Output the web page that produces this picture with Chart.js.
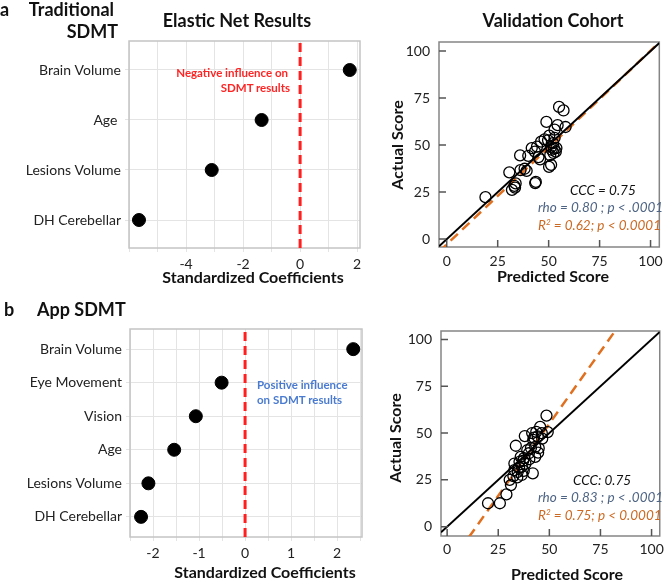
<!DOCTYPE html>
<html>
<head>
<meta charset="utf-8">
<script src="https://cdn.jsdelivr.net/npm/chart.js@4.4.1/dist/chart.umd.min.js"></script>
<style>
body { margin: 0; background: #fff; }
#wrap { position: relative; width: 669px; height: 581px; font-family: Lato, sans-serif; color: #111; overflow: hidden; }
canvas { position: absolute; }
.t { position: absolute; white-space: nowrap; line-height: 1; }
.b18 { font-size: 18px; font-weight: bold; }
.b16 { font-size: 16px; font-weight: bold; }
.c { transform: translateX(-50%); }
.r { transform: translateX(-100%); }
.rot { transform: translate(-50%, -50%) rotate(-90deg); }
.note { font-size: 11.5px; font-weight: bold; }
.stat { font-size: 13.5px; font-style: italic; }
</style>
</head>
<body>
<div id="wrap">
  <canvas id="coefA" width="370" height="290" style="left:0;top:0"></canvas>
  <canvas id="scoreA" width="299" height="290" style="left:370px;top:0"></canvas>
  <canvas id="coefB" width="370" height="291" style="left:0;top:290px"></canvas>
  <canvas id="scoreB" width="299" height="291" style="left:370px;top:290px"></canvas>

  <div class="t b18" style="left:0;top:0">a</div>
  <div class="t b18 r" style="left:114px;top:0">Traditional</div>
  <div class="t b18 r" style="left:118px;top:22px">SDMT</div>
  <div class="t b18 c" style="left:237px;top:11px">Elastic Net Results</div>
  <div class="t b18 c" style="left:553px;top:11px">Validation Cohort</div>
  <div class="t b16 c" style="left:253px;top:269px">Standardized Coefficients</div>
  <div class="t b16 c" style="left:553px;top:268px">Predicted Score</div>
  <div class="t b16 rot" style="left:397px;top:145px">Actual Score</div>
  <div class="t note r" style="left:288px;top:67px;color:#ff2424">Negative influence on</div>
  <div class="t note r" style="left:290px;top:82px;color:#ff2424">SDMT results</div>
  <div class="t stat" style="left:570px;top:184px;color:#111">CCC = 0.75</div>
  <div class="t stat" style="left:538px;top:201px;color:#4e6484">rho = 0.80 ; p &lt; .0001</div>
  <div class="t stat" style="left:538px;top:219px;color:#cc6a23">R<sup style="font-size:8px;line-height:0">2</sup> = 0.62; p &lt; 0.0001</div>

  <div class="t b18" style="left:4px;top:300px">b</div>
  <div class="t b18" style="left:37px;top:300px">App SDMT</div>
  <div class="t b16 c" style="left:265px;top:564px">Standardized Coefficients</div>
  <div class="t b16 c" style="left:567px;top:566px">Predicted Score</div>
  <div class="t b16 rot" style="left:395px;top:438px">Actual Score</div>
  <div class="t note" style="left:257px;top:379px;color:#4a7bd0">Positive influence</div>
  <div class="t note" style="left:257px;top:394px;color:#4a7bd0">on SDMT results</div>
  <div class="t stat" style="left:573px;top:474px;color:#111">CCC: 0.75</div>
  <div class="t stat" style="left:538px;top:491px;color:#4e6484">rho = 0.83 ; p &lt; .0001</div>
  <div class="t stat" style="left:538px;top:509px;color:#cc6a23">R<sup style="font-size:8px;line-height:0">2</sup> = 0.75; p &lt; 0.0001</div>
</div>

<script>
// elastic net coefficients
var tradLabels = ['Brain Volume', 'Age ', 'Lesions Volume', 'DH Cerebellar'];
var tradCoef = [1.74, -1.35, -3.1, -5.65];
var tradGrid = [-6, -5, -4, -3, -2, -1, 0, 1, 2];
var tradTickLabels = [-4, -2, 0, 2];

var appLabels = ['Brain Volume', 'Eye Movement', 'Vision', 'Age', 'Lesions Volume', 'DH Cerebellar'];
var appCoef = [2.35, -0.51, -1.07, -1.54, -2.1, -2.26];
var appGrid = [-2.5, -2, -1.5, -1, -0.5, 0, 0.5, 1, 1.5, 2, 2.5];
var appTickLabels = [-2, -1, 0, 1, 2];

// validation scatter
var scoreTicks = [0, 25, 50, 75, 100];
var valPredicted = [19, 30.7, 32, 33.2, 33.8, 33.5, 36.2, 38.2, 39.2, 36, 40, 41.7, 43.3, 44.3, 43.4, 43.7, 45, 45.8, 46.3, 48,
  48.9, 49.7, 50.3, 50.2, 51.2, 50.8, 51.2, 52.2, 52.6, 52.4, 52.9, 52.9, 54.4, 53.8, 55.1, 57.3, 58.3, 53.5, 51.5];
var valActual = [22.3, 35.5, 26.2, 28.3, 29.6, 27.4, 36.7, 37.4, 36.3, 44.5, 44.3, 48.4, 46.5, 49.2, 29.8, 30.4, 43.6, 42.4, 51.8, 53,
  62.3, 52.5, 55, 38.4, 39.5, 44.6, 49, 51, 48.2, 45.8, 53.8, 58.2, 60.6, 48.4, 70.3, 68.4, 59.6, 46.5, 47.5];
var valFit = [1.03, -2.8]; // slope, intercept

var appPredicted = [20, 25.8, 29, 31.2, 30.6, 32.4, 32.9, 32.9, 33.6, 34.5, 35.2, 35.4, 36, 36.6, 37.2, 37.6, 38.3, 37.5, 39.2, 40,
  38, 41, 41.9, 41.6, 42.1, 42.5, 43.1, 43.1, 43.6, 44.3, 44.5, 44.8, 45.5, 46.3, 46.5, 48.6, 49.2, 40.2, 36.5, 34.3];
var appActual = [12.5, 12.5, 17.2, 22.2, 25, 27, 30.2, 33.7, 43.2, 29.2, 31.5, 34.6, 37.3, 32, 35.2, 36.6, 33.6, 29.8, 40.8, 39.2,
  48.4, 42, 28.5, 50, 46.3, 47.5, 37.3, 42.6, 50.6, 48.2, 39.5, 41.9, 53.3, 49.9, 47, 59.3, 50.5, 36, 27.6, 26.3];
var appFit = [1.54, -22];

var tickFont = { family: 'Lato', size: 14 };

var frame = {
  id: 'frame',
  beforeDatasetsDraw: function(chart, args, opts) {
    var a = chart.chartArea, ctx = chart.ctx;
    ctx.save();
    ctx.strokeStyle = opts.color;
    ctx.lineWidth = 1.5;
    ctx.strokeRect(a.left, a.top, a.right - a.left, a.bottom - a.top);
    ctx.restore();
  }
};

var inTicks = {
  id: 'inTicks',
  afterDraw: function(chart) {
    var a = chart.chartArea, ctx = chart.ctx;
    var xs = chart.scales.x, ys = chart.scales.y;
    ctx.save();
    ctx.strokeStyle = '#555';
    ctx.lineWidth = 1.5;
    ctx.beginPath();
    xs.ticks.forEach(function(t) {
      var p = xs.getPixelForValue(t.value);
      ctx.moveTo(p, a.bottom);
      ctx.lineTo(p, a.bottom - 7);
    });
    ys.ticks.forEach(function(t) {
      var p = ys.getPixelForValue(t.value);
      ctx.moveTo(a.left, p);
      ctx.lineTo(a.left + 7, p);
    });
    ctx.stroke();
    ctx.restore();
  }
};

function coefChart(id, labels, coefs, grid, tickLabels, o) {
  var n = labels.length;
  var pts = coefs.map(function(c, i) { return { x: c, y: n - i }; });
  return new Chart(document.getElementById(id), {
    type: 'scatter',
    data: {
      datasets: [
        { data: pts, backgroundColor: '#000', borderColor: '#000', pointRadius: 6.5 },
        { type: 'line', data: [{ x: 0, y: o.ymin }, { x: 0, y: o.ymax }], borderColor: '#ff1f1f',
          borderWidth: 3, borderDash: [9, 5], pointRadius: 0, clip: 0 }
      ]
    },
    options: {
      responsive: false, animation: false, devicePixelRatio: 1,
      layout: { padding: { top: o.top, right: o.right, left: 0, bottom: 0 } },
      plugins: { legend: { display: false }, tooltip: { enabled: false }, frame: { color: '#c4c4c4' } },
      scales: {
        x: {
          type: 'linear', min: o.xmin, max: o.xmax,
          afterBuildTicks: function(s) { s.ticks = grid.map(function(v) { return { value: v }; }); },
          ticks: { font: tickFont, color: '#222', padding: 4, maxRotation: 0, autoSkip: false,
            callback: function(v) { return tickLabels.indexOf(v) >= 0 ? String(v) : ''; } },
          grid: { color: '#e4e4e4', tickLength: 4 },
          border: { display: false },
          afterFit: function(s) { s.height = o.xh; }
        },
        y: {
          type: 'linear', min: o.ymin, max: o.ymax,
          afterBuildTicks: function(s) {
            s.ticks = labels.map(function(l, i) { return { value: n - i }; });
          },
          ticks: { font: tickFont, color: '#222', padding: 4, autoSkip: false,
            callback: function(v) { return labels[n - v]; } },
          grid: { color: '#e4e4e4', tickLength: 4 },
          border: { display: false },
          afterFit: function(s) { s.width = o.yw; }
        }
      }
    },
    plugins: [frame]
  });
}

function scoreChart(id, pred, act, fit, o) {
  var pts = pred.map(function(p, i) { return { x: p, y: act[i] }; });
  var x0 = o.xmin, x1 = o.xmax;
  return new Chart(document.getElementById(id), {
    type: 'scatter',
    data: {
      datasets: [
        { data: pts, pointRadius: 5.5, borderWidth: 1.3, borderColor: '#000', backgroundColor: 'rgba(0,0,0,0)' },
        { type: 'line', data: [{ x: x0, y: x0 }, { x: x1, y: x1 }], borderColor: '#000',
          borderWidth: 2, pointRadius: 0, clip: 0 },
        { type: 'line', data: [{ x: x0, y: fit[0] * x0 + fit[1] }, { x: x1, y: fit[0] * x1 + fit[1] }],
          borderColor: '#e0701f', borderWidth: 2.5, borderDash: [10, 6], pointRadius: 0, clip: 0 }
      ]
    },
    options: {
      responsive: false, animation: false, devicePixelRatio: 1,
      layout: { padding: { top: o.top, right: o.right, left: 0, bottom: 0 } },
      plugins: { legend: { display: false }, tooltip: { enabled: false }, frame: { color: '#858585' } },
      scales: {
        x: {
          type: 'linear', min: o.xmin, max: o.xmax,
          afterBuildTicks: function(s) { s.ticks = scoreTicks.map(function(v) { return { value: v }; }); },
          ticks: { font: tickFont, color: '#222', padding: o.xpad, maxRotation: 0, autoSkip: false },
          grid: { display: false, tickLength: 0 },
          border: { display: false },
          afterFit: function(s) { s.height = o.xh; }
        },
        y: {
          type: 'linear', min: o.ymin, max: o.ymax,
          afterBuildTicks: function(s) { s.ticks = scoreTicks.map(function(v) { return { value: v }; }); },
          ticks: { font: tickFont, color: '#222', padding: 9, autoSkip: false },
          grid: { display: false, tickLength: 0 },
          border: { display: false },
          afterFit: function(s) { s.width = o.yw; }
        }
      }
    },
    plugins: [frame, inTicks]
  });
}

coefChart('coefA', tradLabels, tradCoef, tradGrid, tradTickLabels,
  { xmin: -6, xmax: 2.1, ymin: 0.44, ymax: 4.58, top: 41, right: 10, yw: 129, xh: 42 });
coefChart('coefB', appLabels, appCoef, appGrid, appTickLabels,
  { xmin: -2.5, xmax: 2.54, ymin: 0.4, ymax: 6.6, top: 39, right: 8, yw: 130, xh: 44 });
scoreChart('scoreA', valPredicted, valActual, valFit,
  { xmin: -3.8, xmax: 104.3, ymin: -4.2, ymax: 104.8, top: 42, right: 2, yw: 69, xh: 43, xpad: 6 });
scoreChart('scoreB', appPredicted, appActual, appFit,
  { xmin: -3, xmax: 104, ymin: -5, ymax: 104.5, top: 41, right: 2, yw: 71, xh: 45, xpad: 5 });
</script>
</body>
</html>
